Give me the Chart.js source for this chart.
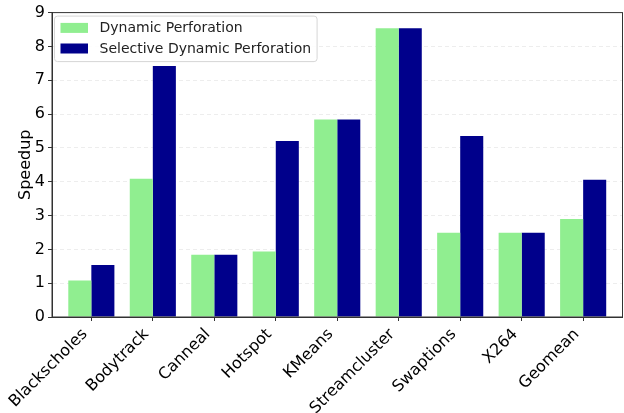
<!DOCTYPE html>
<html>
<head>
<meta charset="utf-8">
<script src="https://cdn.jsdelivr.net/npm/chart.js@4.4.1/dist/chart.umd.min.js"></script>
<style>
  html, body { margin: 0; padding: 0; background: #fff; }
  #wrap { width: 624px; height: 413px; }
</style>
</head>
<body>
<div id="wrap"><canvas id="c" width="624" height="413"></canvas></div>
<script>
// Benchmarks on the x axis
const categories = ['Blackscholes', 'Bodytrack', 'Canneal', 'Hotspot', 'KMeans',
                    'Streamcluster', 'Swaptions', 'X264', 'Geomean'];
// Speedup per benchmark
const dynamicPerforation = [1.08, 4.09, 1.84, 1.94, 5.84, 8.54, 2.49, 2.49, 2.90];
const selectiveDynamicPerforation = [1.54, 7.42, 1.84, 5.20, 5.84, 8.54, 5.35, 2.49, 4.06];
const seriesNames = ['Dynamic Perforation', 'Selective Dynamic Perforation'];
const yTicks = [0, 1, 2, 3, 4, 5, 6, 7, 8, 9];

const FONT = "'DejaVu Sans', 'Liberation Sans', sans-serif";
const toPoints = vals => vals.map((v, i) => ({ x: i, y: v }));

// Box around the whole plot area (all four spines)
const framePlugin = {
  id: 'frame',
  afterDatasetsDraw(chart) {
    const { ctx, chartArea: a } = chart;
    ctx.save();
    ctx.strokeStyle = '#333';
    ctx.lineWidth = 1;
    ctx.strokeRect(a.left, a.top, a.right - a.left, a.bottom - a.top);
    ctx.restore();
  }
};

// Legend drawn inside the plot area, upper left
const insideLegend = {
  id: 'insideLegend',
  afterDraw(chart) {
    const { ctx, chartArea: a } = chart;
    const sets = chart.data.datasets;
    ctx.save();
    ctx.font = '14px ' + FONT;
    const textW = Math.max(...sets.map(d => ctx.measureText(d.label).width));
    const x0 = a.left + 2.5, y0 = a.top + 3.5;
    const w = 45 + textW + 6, h = 45.5;
    ctx.beginPath();
    ctx.roundRect(x0, y0, w, h, 3);
    ctx.fillStyle = 'rgba(255,255,255,0.85)';
    ctx.fill();
    ctx.strokeStyle = '#d6d6d6';
    ctx.lineWidth = 1;
    ctx.stroke();
    sets.forEach((d, i) => {
      const cy = y0 + 11.8 + i * 20.6;
      ctx.fillStyle = d.backgroundColor;
      ctx.fillRect(x0 + 6, cy - 5, 27.5, 10);
      ctx.fillStyle = '#222';
      ctx.textBaseline = 'middle';
      ctx.textAlign = 'left';
      ctx.fillText(d.label, x0 + 45, cy + 0.5);
    });
    ctx.restore();
  }
};

new Chart(document.getElementById('c'), {
  type: 'bar',
  data: {
    datasets: [
      { label: seriesNames[0], data: toPoints(dynamicPerforation), backgroundColor: '#90ee90' },
      { label: seriesNames[1], data: toPoints(selectiveDynamicPerforation), backgroundColor: '#00008b' }
    ]
  },
  options: {
    responsive: false,
    devicePixelRatio: 1,
    animation: false,
    categoryPercentage: 0.75,
    barPercentage: 1.0,
    layout: { padding: { top: 12, right: 1.5, left: 0, bottom: 0 } },
    plugins: { legend: { display: false }, tooltip: { enabled: false } },
    scales: {
      x: {
        type: 'linear',
        offset: false,
        min: -0.64,
        max: categories.length - 1 + 0.64,
        afterBuildTicks: s => { s.ticks = categories.map((_, i) => ({ value: i })); },
        afterFit: s => { s.height = 96; },
        grid: { drawOnChartArea: false, tickLength: 4, tickColor: '#333', offset: false },
        border: { color: '#333' },
        ticks: {
          autoSkip: false,
          maxRotation: 45,
          minRotation: 45,
          padding: 4,
          labelOffset: -6.5,
          color: '#000',
          font: { family: FONT, size: 16 },
          callback: v => categories[v]
        }
      },
      y: {
        min: 0,
        max: 9,
        afterBuildTicks: s => { s.ticks = yTicks.map(v => ({ value: v })); },
        afterFit: s => { s.width = 52; },
        grid: { color: 'rgba(0,0,0,0.07)', tickLength: 4, tickColor: '#333' },
        border: { color: '#333', dash: [4, 3] },
        ticks: {
          padding: 3,
          color: '#000',
          font: { family: FONT, size: 16 }
        },
        title: {
          display: true,
          text: 'Speedup',
          color: '#000',
          font: { family: FONT, size: 16 },
          padding: { top: 16, bottom: 0 }
        }
      }
    }
  },
  plugins: [framePlugin, insideLegend]
});
</script>
</body>
</html>
